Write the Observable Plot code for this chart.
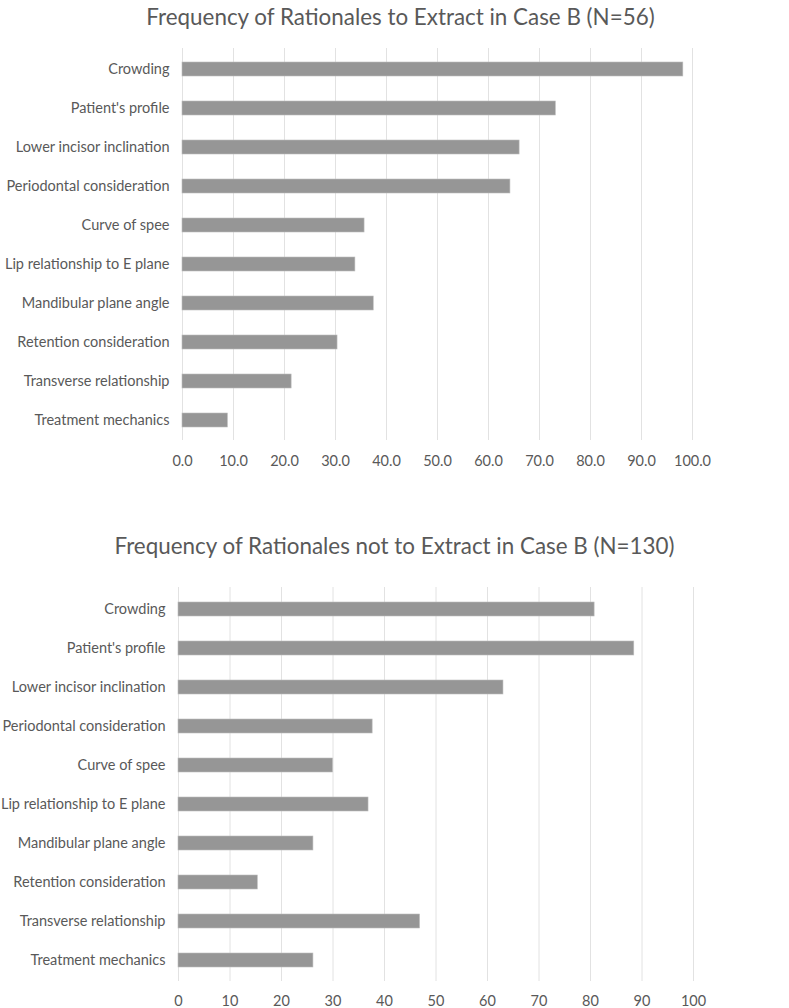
<!DOCTYPE html>
<html>
<head>
<meta charset="utf-8">
<script src="https://cdn.jsdelivr.net/npm/d3@7"></script>
<script src="https://cdn.jsdelivr.net/npm/@observablehq/plot@0.6"></script>
<style>
  body { margin: 0; background: #fff; width: 789px; height: 1008px; position: relative; overflow: hidden; font-family: Lato, "Open Sans", sans-serif; }
  .title { position: absolute; left: 0; width: 789px; text-align: center; color: #595959; font-size: 22.4px; font-family: Lato, sans-serif; }
  .chart { position: absolute; left: 0; }
</style>
</head>
<body>
<div class="title" id="t1" style="top:3px; padding-left:12px; box-sizing:border-box;"></div>
<div class="chart" id="c1" style="top:35px;"></div>
<div class="title" id="t2" style="top:532px; box-sizing:border-box;"></div>
<div class="chart" id="c2" style="top:570px;"></div>
<script>
const categories = [
  "Crowding",
  "Patient's profile",
  "Lower incisor inclination",
  "Periodontal consideration",
  "Curve of spee",
  "Lip relationship to E plane",
  "Mandibular plane angle",
  "Retention consideration",
  "Transverse relationship",
  "Treatment mechanics"
];
const extractValues = [98.2, 73.2, 66.1, 64.3, 35.7, 33.9, 37.5, 30.4, 21.4, 8.9];
const notExtractValues = [80.8, 88.5, 63.1, 37.7, 30.0, 36.9, 26.2, 15.4, 46.9, 26.2];
const ticksTop = [0, 10, 20, 30, 40, 50, 60, 70, 80, 90, 100];
const ticksBottom = [0, 10, 20, 30, 40, 50, 60, 70, 80, 90, 100];
const title1 = "Frequency of Rationales to Extract in Case B (N=56)";
const title2 = "Frequency of Rationales not to Extract in Case B (N=130)";

document.getElementById("t1").textContent = title1;
document.getElementById("t2").textContent = title2;

function makeChart(values, ticks, fmt, opts) {
  const data = categories.map((c, i) => ({category: c, value: values[i]}));
  return Plot.plot({
    width: 789,
    height: opts.height,
    marginLeft: opts.marginLeft,
    marginRight: opts.marginRight,
    marginTop: opts.marginTop,
    marginBottom: opts.marginBottom,
    style: {fontFamily: "Lato, 'Open Sans', sans-serif", fontSize: "14.5px", color: "#595959", background: "#fff"},
    x: {domain: [0, 100], ticks: ticks, tickFormat: fmt, tickSize: 0, tickPadding: opts.xPad, label: null},
    y: {domain: categories, paddingInner: 0.65, paddingOuter: 0.325, tickSize: 0, tickPadding: 13, label: null},
    marks: [
      Plot.gridX(ticks, {stroke: "#e2e2e2", strokeOpacity: 1, strokeWidth: 1}),
      Plot.barX(data, {x: "value", y: "category", fill: "#969696", stroke: "#bdbdbd", strokeWidth: 0.6}),
      Plot.axisX({ticks: ticks, tickFormat: fmt, tickSize: 0, tickPadding: opts.xPad, fill: "#595959", fontSize: 14.5}),
      Plot.axisY({tickSize: 0, tickPadding: 13, fill: "#595959", fontSize: 14.5})
    ]
  });
}

const c1 = makeChart(extractValues, ticksTop, d => d.toFixed(1), {
  height: 445, marginLeft: 182, marginRight: 97, marginTop: 13, marginBottom: 40, xPad: 15
});
document.getElementById("c1").appendChild(c1);

const c2 = makeChart(notExtractValues, ticksBottom, d => String(d), {
  height: 438, marginLeft: 178, marginRight: 96, marginTop: 17, marginBottom: 27, xPad: 14
});
document.getElementById("c2").appendChild(c2);
</script>
</body>
</html>
